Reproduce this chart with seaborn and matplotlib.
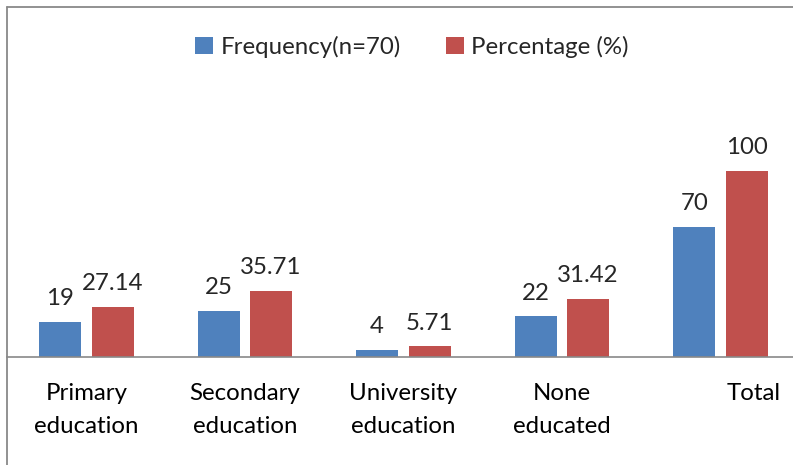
import matplotlib
matplotlib.use('Agg')
import matplotlib.pyplot as plt
import seaborn as sns
import pandas as pd
from matplotlib.lines import Line2D
from matplotlib.transforms import ScaledTranslation

# data
categories = ['Primary\neducation', 'Secondary\neducation', 'University\neducation', 'None\neducated', 'Total']
frequency = [19, 25, 4, 22, 70]
percentage = [27.14, 35.71, 5.71, 31.42, 100]
series_names = ['Frequency(n=70)', 'Percentage (%)']
freq_labels = ['19', '25', '4', '22', '70']
pct_labels = ['27.14', '35.71', '5.71', '31.42', '100']

df = pd.DataFrame({
    'category': categories * 2,
    'value': frequency + percentage,
    'series': [series_names[0]] * 5 + [series_names[1]] * 5,
})

sns.set_theme(style='white')
plt.rcParams['font.family'] = ['Lato', 'DejaVu Sans']

W, H = 793, 465
fig = plt.figure(figsize=(W / 100, H / 100), dpi=100)
border = '#898989'
fs = 17.3

# axes: left edge at x=7px, baseline at y=357px
ax = fig.add_axes([7 / W, (H - 357) / H, (W - 7) / W, (357 - 7) / H])
sns.barplot(data=df, x='category', y='value', hue='series', ax=ax,
            palette=['#4F81BD', '#C0504D'], width=0.662, gap=0.2,
            saturation=1, edgecolor='none')

ax.set_xlim(-0.5, 4.457)
ax.set_ylim(0, (357 - 7) / 1.86)
ax.set_xlabel('')
ax.set_ylabel('')
ax.set_yticks([])
for s in ['left', 'top', 'right']:
    ax.spines[s].set_visible(False)
ax.spines['bottom'].set_color(border)
ax.spines['bottom'].set_linewidth(1.2)
ax.tick_params(axis='x', length=0, pad=18.5, labelsize=fs, colors='black')
for lbl in ax.get_xticklabels():
    lbl.set_linespacing(1.72)
    lbl.set_verticalalignment('top')

# the "Total" label sits right of its bars in the original
tl = ax.get_xticklabels()[-1]
tl.set_transform(tl.get_transform() + ScaledTranslation(0.33, 0, fig.dpi_scale_trans))

ax.bar_label(ax.containers[0], labels=freq_labels, padding=9, fontsize=fs)
ax.bar_label(ax.containers[1], labels=pct_labels, padding=9, fontsize=fs)

leg = ax.legend(loc='center', bbox_to_anchor=(412 / W, 1 - 47 / H),
                bbox_transform=fig.transFigure, ncol=2, frameon=False,
                fontsize=fs, handlelength=0.75, handleheight=0.75,
                handletextpad=0.3, columnspacing=1.9)

# outer chart border (cropped frame)
fig.add_artist(Line2D([7 / W, 7 / W], [0, 1 - 7 / H], color=border, lw=1.3))
fig.add_artist(Line2D([7 / W, 1], [1 - 7 / H, 1 - 7 / H], color=border, lw=1.3))

plt.savefig('out.png', dpi=100)
plt.close()
